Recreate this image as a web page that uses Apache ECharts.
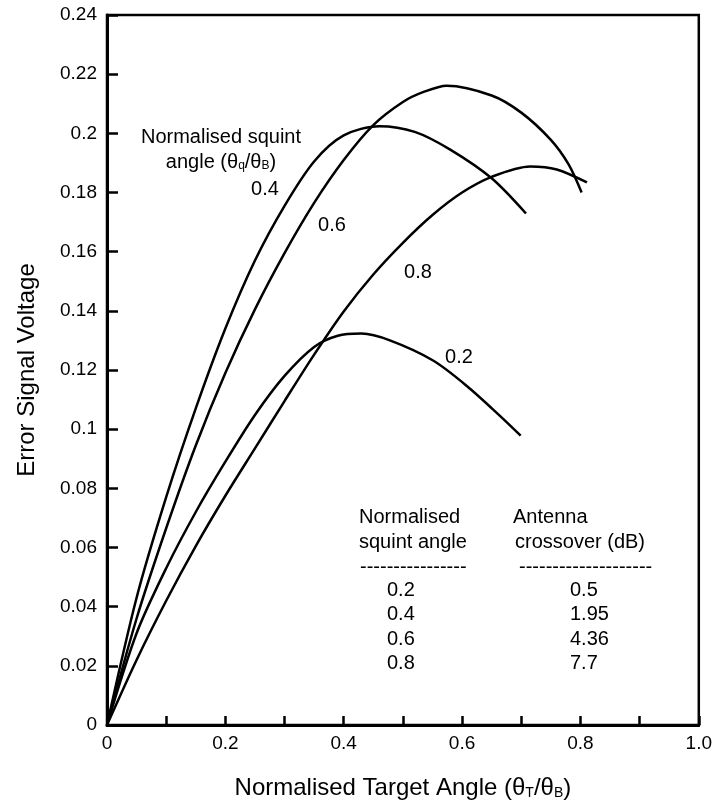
<!DOCTYPE html>
<html><head><meta charset="utf-8">
<script src="https://cdn.jsdelivr.net/npm/echarts@6/dist/echarts.min.js"></script>
<style>html,body{margin:0;padding:0;background:#fff}#c{width:715px;height:805px}</style>
</head><body><div id="c"></div>
<script>
const FONT = '"Liberation Sans", Arial, Helvetica, sans-serif';

// Curves: normalised squint angle -> (target angle, error voltage)
const x02 = [0, 0.05, 0.10, 0.15, 0.20, 0.25, 0.30, 0.35, 0.39, 0.43, 0.478, 0.551, 0.608, 0.664, 0.699];
const y02 = [0, 0.031, 0.053, 0.072, 0.089, 0.1048, 0.1180, 0.1278, 0.1316, 0.1323, 0.1300, 0.1232, 0.1146, 0.1045, 0.0978];

const x04 = [0, 0.05, 0.10, 0.15, 0.20, 0.25, 0.30, 0.35, 0.40, 0.46, 0.52, 0.58, 0.65, 0.708];
const y04 = [0, 0.043, 0.077, 0.107, 0.134, 0.157, 0.1755, 0.1905, 0.1993, 0.2024, 0.2005, 0.1945, 0.1848, 0.1729];

const x06 = [0, 0.05, 0.10, 0.15, 0.20, 0.25, 0.30, 0.35, 0.40, 0.45, 0.50, 0.535, 0.574, 0.65, 0.70, 0.75, 0.78, 0.802];
const y06 = [0, 0.036, 0.0665, 0.0945, 0.119, 0.1405, 0.1595, 0.1765, 0.191, 0.2028, 0.2106, 0.2140, 0.2161, 0.2128, 0.2070, 0.1978, 0.1895, 0.1800];

const x08 = [0, 0.05, 0.10, 0.15, 0.20, 0.25, 0.30, 0.35, 0.40, 0.45, 0.50, 0.55, 0.60, 0.65, 0.715, 0.76, 0.811];
const y08 = [0, 0.022, 0.042, 0.0605, 0.0775, 0.0935, 0.1095, 0.1252, 0.1398, 0.1523, 0.1630, 0.1724, 0.1800, 0.1853, 0.1888, 0.1878, 0.1834];

const xTickLabels = ['0', '0.2', '0.4', '0.6', '0.8', '1.0'];
const yTickLabels = ['0', '0.02', '0.04', '0.06', '0.08', '0.1', '0.12', '0.14', '0.16', '0.18', '0.2', '0.22', '0.24'];

// Table
const tableSquint = ['0.2', '0.4', '0.6', '0.8'];
const tableCrossover = ['0.5', '1.95', '4.36', '7.7'];

const zip = (xs, ys) => xs.map((x, i) => [x, ys[i]]);

const chart = echarts.init(document.getElementById('c'), null, {renderer: 'canvas'});

const lineSeries = (name, xs, ys) => ({
  name, type: 'line', data: zip(xs, ys), showSymbol: false, symbol: 'none',
  smooth: 0.3, silent: true,
  lineStyle: {color: '#000', width: 2.5}
});

const txt = (text, x, y, opts = {}) => ({
  type: 'text', x, y, silent: true,
  style: Object.assign({text, fill: '#000', font: '20px ' + FONT, textAlign: 'left', textVerticalAlign: 'middle'}, opts)
});

const subRich = {
  sub: {fontSize: 12, fontFamily: FONT, color: '#000', verticalAlign: 'bottom', padding: [8, 0, 0, 0]}
};

const graphics = [];
// curve labels
graphics.push(txt('0.4', 265, 189, {textAlign: 'center'}));
graphics.push(txt('0.6', 332, 225, {textAlign: 'center'}));
graphics.push(txt('0.8', 418, 272, {textAlign: 'center'}));
graphics.push(txt('0.2', 459, 357, {textAlign: 'center'}));
// top-left note
graphics.push(txt('Normalised squint', 221, 137, {textAlign: 'center'}));
graphics.push({
  type: 'text', x: 221, y: 162, silent: true,
  style: {
    text: 'angle (θ{sub|q}/θ{sub|B})', fill: '#000', font: '20px ' + FONT,
    textAlign: 'center', textVerticalAlign: 'middle', rich: subRich
  }
});
// table headers
graphics.push(txt('Normalised', 359, 517));
graphics.push(txt('squint angle', 359, 542));
graphics.push(txt('----------------', 360, 567));
graphics.push(txt('Antenna', 513, 517));
graphics.push(txt('crossover (dB)', 515, 542));
graphics.push(txt('--------------------', 519, 567));
const rowY = [590, 614.5, 639, 663.5];
tableSquint.forEach((s, i) => graphics.push(txt(s, 387, rowY[i])));
tableCrossover.forEach((s, i) => graphics.push(txt(s, 570, rowY[i])));

chart.setOption({
  animation: false,
  backgroundColor: '#fff',
  textStyle: {fontFamily: FONT, color: '#000'},
  grid: {left: 107, right: 16, top: 15, bottom: 78, show: true, borderColor: '#000', borderWidth: 2.5, backgroundColor: 'transparent'},
  xAxis: {
    type: 'value', min: 0, max: 1, interval: 0.1,
    name: 'Normalised Target Angle (θ{sub|T}/θ{sub|B})',
    nameLocation: 'middle', nameGap: 51,
    nameTextStyle: {fontSize: 24, fontFamily: FONT, color: '#000',
      rich: {sub: {fontSize: 14, fontFamily: FONT, color: '#000', verticalAlign: 'bottom', padding: [10, 0, 0, 0]}}},
    axisLine: {show: true, lineStyle: {color: '#000', width: 3}},
    axisTick: {show: true, inside: true, length: 9, lineStyle: {color: '#000', width: 2.5}},
    splitLine: {show: false},
    axisLabel: {
      fontSize: 19, color: '#000', fontFamily: FONT, margin: 9,
      formatter: v => { const i = Math.round(v * 10); return i % 2 === 0 ? xTickLabels[i / 2] : ''; }
    }
  },
  yAxis: {
    type: 'value', min: 0, max: 0.24, interval: 0.02,
    name: 'Error Signal Voltage', nameLocation: 'middle', nameGap: 68, nameRotate: 90,
    nameTextStyle: {fontSize: 24, fontFamily: FONT, color: '#000'},
    axisLine: {show: true, lineStyle: {color: '#000', width: 3}},
    axisTick: {show: true, inside: true, length: 11, lineStyle: {color: '#000', width: 2.5}},
    splitLine: {show: false},
    axisLabel: {
      fontSize: 19, color: '#000', fontFamily: FONT, margin: 10,
      formatter: v => yTickLabels[Math.round(v / 0.02)]
    }
  },
  series: [
    lineSeries('0.2', x02, y02),
    lineSeries('0.4', x04, y04),
    lineSeries('0.6', x06, y06),
    lineSeries('0.8', x08, y08)
  ],
  graphic: graphics
});
</script>
</body></html>
